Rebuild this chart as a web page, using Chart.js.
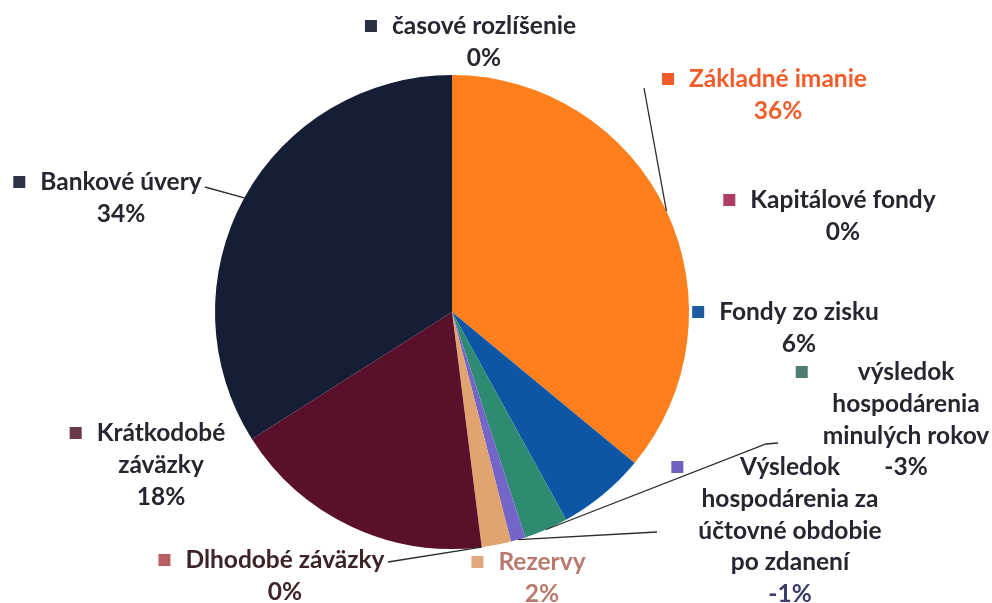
<!DOCTYPE html>
<html>

<head>
  <title>Štruktúra pasív</title>
  <script src="https://cdn.jsdelivr.net/npm/chart.js"></script>
  <style>
    body { margin: 0; background: #fff; }
    #wrap { width: 992px; height: 603px; }
  </style>
</head>

<body>
  <div id="wrap"><canvas id="pieChart"></canvas></div>

  <script>
    // categories and percentages, clockwise from 12 o'clock
    const categories = [
      'Základné imanie',
      'Kapitálové fondy',
      'Fondy zo zisku',
      'výsledok hospodárenia minulých rokov',
      'Výsledok hospodárenia za účtovné obdobie po zdanení',
      'Rezervy',
      'Dlhodobé záväzky',
      'Krátkodobé záväzky',
      'Bankové úvery',
      'časové rozlíšenie'
    ];
    const percents = [36, 0, 6, -3, -1, 2, 0, 18, 34, 0];

    // how each label is wrapped in the picture
    const labelLines = [
      ['Základné imanie'],
      ['Kapitálové fondy'],
      ['Fondy zo zisku'],
      ['výsledok', 'hospodárenia', 'minulých rokov'],
      ['Výsledok', 'hospodárenia za', 'účtovné obdobie', 'po zdanení'],
      ['Rezervy'],
      ['Dlhodobé záväzky'],
      ['Krátkodobé', 'záväzky'],
      ['Bankové úvery'],
      ['časové rozlíšenie']
    ];

    const sliceColors = ['#ff7f1c', '#b03d62', '#0d56a6', '#2f8a72', '#7466c8', '#e2a46e', '#b86060', '#5a0f2a', '#161e36', '#2a3040'];
    const keyColors = ['#f25c2a', '#b03d62', '#1c5c9e', '#4e7e72', '#7060c0', '#e0a880', '#b86060', '#6a3848', '#2e3448', '#2a3040'];
    const textColors = ['#f25c2a', '#262630', '#262630', '#262630', '#262630', '#b97a6e', '#3c2428', '#262630', '#262630', '#262630'];
    const pctColors = ['#f25c2a', '#262630', '#262630', '#262630', '#3c3c6c', '#b97a6e', '#3c2428', '#262630', '#262630', '#262630'];

    // label block placement: centre x, first line y, optional leader start
    const labelPos = [
      { x: 778, y: 79, lead: [[644, 88]] },
      { x: 843, y: 200 },
      { x: 799, y: 312 },
      { x: 906, y: 372, lead: [[778, 443], [766, 444]] },
      { x: 790, y: 467, lead: [[657, 532]] },
      { x: 542, y: 562 },
      { x: 285, y: 560, lead: [[388, 562]] },
      { x: 161, y: 433 },
      { x: 121, y: 182, lead: [[205, 187]] },
      { x: 484, y: 26 }
    ];

    const labelPlugin = {
      id: 'outsideLabels',
      afterDatasetsDraw(chart) {
        const ctx = chart.ctx;
        const arcs = chart.getDatasetMeta(0).data;
        ctx.save();
        ctx.font = 'bold 24.5px Lato';
        ctx.textAlign = 'center';
        ctx.textBaseline = 'middle';
        const lh = 31.8;
        arcs.forEach((arc, i) => {
          const pos = labelPos[i];
          const lines = labelLines[i];
          // leader line to the slice edge
          if (pos.lead) {
            const mid = (arc.startAngle + arc.endAngle) / 2;
            const ex = arc.x + Math.cos(mid) * arc.outerRadius;
            const ey = arc.y + Math.sin(mid) * arc.outerRadius;
            ctx.strokeStyle = '#2b2b2b';
            ctx.lineWidth = 1.3;
            ctx.beginPath();
            ctx.moveTo(pos.lead[0][0], pos.lead[0][1]);
            for (let k = 1; k < pos.lead.length; k++) ctx.lineTo(pos.lead[k][0], pos.lead[k][1]);
            ctx.lineTo(ex, ey);
            ctx.stroke();
          }
          let maxW = 0;
          lines.forEach(l => { maxW = Math.max(maxW, ctx.measureText(l).width); });
          ctx.fillStyle = keyColors[i];
          const kx = pos.x - maxW / 2 - 21;
          ctx.fillRect(kx - 6, pos.y - 6, 12, 12);
          ctx.fillStyle = textColors[i];
          lines.forEach((l, k) => ctx.fillText(l, pos.x, pos.y + k * lh));
          ctx.fillStyle = pctColors[i];
          ctx.fillText(percents[i] + '%', pos.x, pos.y + lines.length * lh);
        });
        ctx.restore();
      }
    };

    const ctx = document.getElementById('pieChart').getContext('2d');
    new Chart(ctx, {
      type: 'pie',
      data: {
        labels: categories,
        datasets: [{
          data: percents.map(v => Math.abs(v)),
          backgroundColor: sliceColors,
          borderWidth: 0,
          hoverOffset: 0
        }]
      },
      options: {
        responsive: true,
        maintainAspectRatio: false,
        animation: false,
        layout: { padding: { left: 215, right: 303, top: 75, bottom: 54 } },
        plugins: {
          legend: { display: false },
          tooltip: { enabled: false }
        }
      },
      plugins: [labelPlugin]
    });
  </script>
</body>

</html>
